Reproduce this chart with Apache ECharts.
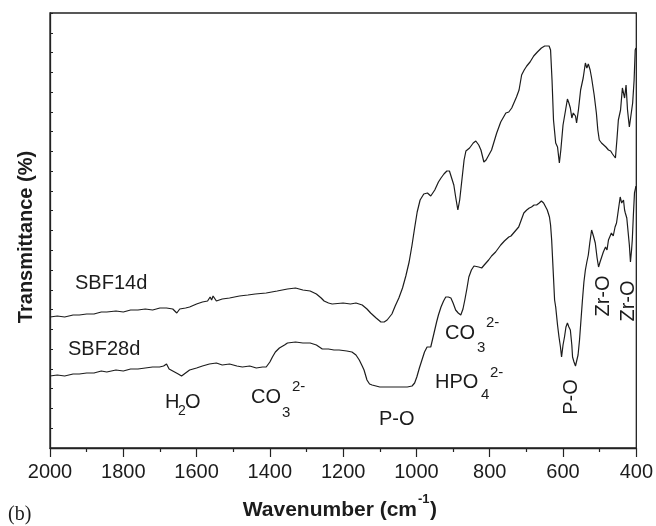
<!DOCTYPE html>
<html>
<head>
<meta charset="utf-8">
<script src="https://cdn.jsdelivr.net/npm/echarts@6/dist/echarts.min.js"></script>
<style>html,body{margin:0;padding:0;background:#fff;}#c{width:656px;height:526px;}</style>
</head>
<body>
<div id="c"></div>
<script>
// Tick labels of the wavenumber axis
const xTicks = [2000, 1800, 1600, 1400, 1200, 1000, 800, 600, 400];
// Series names
const seriesNames = ['SBF14d', 'SBF28d'];
// Wavenumber (cm-1) / transmittance (arbitrary units, offset curves)
const sbf14d = [
[2000,131],[1980,132],[1960,131],[1937,133],[1920,133],[1900,134],[1880,134],[1860,136],[1845,136],[1820,137],
[1800,136],[1780,138],[1760,138],[1740,139],[1720,138],[1700,140],[1682,140],[1665,139],[1654,135],[1646,139],
[1630,140],[1619,141],[1600,144],[1584,146],[1570,147],[1563,151],[1559,148],[1555,152],[1546,147],[1530,149],
[1510,150],[1483,152],[1460,153],[1440,154],[1410,155],[1380,157],[1352,159],[1330,160],[1310,158],[1290,157],
[1273,154],[1260,150],[1252,147],[1240,145],[1230,144],[1200,145],[1180,144],[1165,145],[1148,143],[1135,139],
[1125,135],[1110,130],[1097,126],[1088,126],[1080,128],[1075,127],[1067,134],[1058,142],[1048,150],[1038,160],
[1029,172],[1020,186],[1012,203],[1005,220],[998,236],[990,248],[980,254],[970,255],[961,252],[950,258],
[940,266],[933,270],[925,274],[917,277],[910,277],[906,275],[898,263],[893,251],[887,238],[882,248],
[876,268],[870,288],[865,297],[855,300],[845,305],[838,307],[830,303],[824,298],[816,286],[810,288],
[805,286],[795,298],[781,315],[770,326],[756,335],[748,336],[740,340],[727,351],[720,358],[713,373],
[706,378],[699,382],[690,386],[680,392],[670,396],[659,400],[650,402],[645,404],[638,402],[634,398],
[630,368],[626,328],[620,305],[615,301],[610,285],[606,298],[600,323],[593,338],[588,349],[584,345],
[580,340],[576,330],[572,335],[566,332],[563,325],[558,338],[552,358],[545,370],[539,385],[535,380],
[531,384],[526,378],[522,370],[515,353],[509,335],[505,318],[501,308],[495,305],[490,306],[483,301],
[476,298],[470,297],[465,294],[460,292],[457,290],[453,308],[449,328],[443,338],[438,360],[435,361],
[432,350],[428,363],[424,338],[419,321],[414,321],[410,345],[406,368],[403,398],[401,400]
];
const sbf28d = [
[2000,72],[1980,73],[1960,72],[1937,74],[1920,74],[1900,75],[1880,75],[1860,77],[1845,76],[1820,78],
[1800,77],[1780,79],[1760,79],[1740,80],[1720,81],[1701,81],[1690,82],[1682,84],[1675,79],[1665,77],
[1650,74],[1641,72],[1630,75],[1619,78],[1600,80],[1584,82],[1565,84],[1546,85],[1530,83],[1510,84],
[1490,82],[1475,81],[1455,82],[1437,80],[1420,81],[1410,81],[1400,86],[1393,91],[1385,96],[1374,100],
[1360,103],[1352,105],[1330,106],[1310,105],[1290,105],[1273,103],[1265,101],[1257,99],[1240,99],[1225,98],
[1211,98],[1190,97],[1176,96],[1165,93],[1156,88],[1148,82],[1143,78],[1135,68],[1128,64],[1121,63],
[1100,61],[1080,61],[1060,61],[1040,61],[1025,61],[1012,62],[1005,65],[999,71],[992,80],[985,88],
[978,96],[971,101],[966,100],[961,101],[952,115],[945,126],[940,133],[933,141],[926,147],[920,151],
[913,151],[906,150],[900,145],[893,138],[886,135],[879,133],[873,139],[868,148],[862,160],[857,171],
[850,178],[843,182],[838,184],[830,181],[822,180],[815,183],[810,182],[803,188],[795,192],[784,196],
[776,200],[770,203],[760,207],[748,211],[742,212],[735,215],[728,218],[721,221],[714,228],[707,235],
[699,238],[692,240],[686,241],[679,243],[672,243],[665,245],[659,247],[653,245],[648,243],[643,238],
[637,231],[634,223],[631,208],[627,178],[623,148],[620,141],[615,123],[611,111],[607,101],[604,91],
[600,103],[596,111],[592,121],[588,125],[584,121],[580,118],[576,103],[574,91],[570,86],[566,82],
[563,80],[559,93],[555,108],[551,128],[547,148],[543,166],[539,178],[535,186],[531,193],[527,205],
[522,218],[517,212],[512,205],[507,190],[503,181],[499,186],[495,188],[490,196],[484,201],[480,198],
[476,208],[472,206],[468,215],[463,212],[458,221],[454,225],[449,238],[444,251],[440,245],[435,248],
[432,238],[430,235],[426,230],[422,228],[419,203],[416,186],[413,198],[411,208],[408,233],[405,255],
[402,260],[401,262]
];

const chart = echarts.init(document.getElementById('c'), null, {renderer: 'canvas'});
const FONT = '"Liberation Sans", Arial, Helvetica, sans-serif';
const INK = '#1c1c1c';

function txt(x, y, s, size, opts) {
  opts = opts || {};
  return {
    type: 'text', x: x, y: y, rotation: opts.rot || 0, z: 100,
    style: {
      text: s, x: 0, y: 0,
      font: (opts.bold ? 'bold ' : '') + size + 'px ' + (opts.family || FONT),
      fill: INK,
      textAlign: opts.align || 'left', align: opts.align || 'left',
      textVerticalAlign: 'middle', verticalAlign: 'middle'
    }
  };
}

const graphics = [
  // axis titles
  txt(26, 237, 'Transmittance (%)', 20, {bold: true, align: 'center', rot: Math.PI / 2}),
  txt(417, 510, 'Wavenumber (cm', 21, {bold: true, align: 'right'}),
  txt(418, 499, '-1', 13, {bold: true}),
  txt(430, 510, ')', 21, {bold: true}),
  txt(8, 515, '(b)', 20, {family: '"Liberation Serif", "Times New Roman", serif'}),
  // series labels
  txt(75, 283, seriesNames[0], 20),
  txt(68, 349, seriesNames[1], 20),
  // band annotations
  txt(165, 402, 'H', 20), txt(178, 411, '2', 14), txt(185, 402, 'O', 20),
  txt(251, 397, 'CO', 20), txt(282, 413, '3', 15), txt(292, 387, '2-', 15),
  txt(379, 419, 'P-O', 20),
  txt(445, 333, 'CO', 20), txt(477, 348, '3', 15), txt(486, 323, '2-', 15),
  txt(435, 382, 'HPO', 20), txt(481, 395, '4', 15), txt(490, 373, '2-', 15),
  txt(571, 397, 'P-O', 20, {align: 'center', rot: Math.PI / 2}),
  txt(603, 296, 'Zr-O', 20, {align: 'center', rot: Math.PI / 2}),
  txt(628, 301, 'Zr-O', 20, {align: 'center', rot: Math.PI / 2})
];

chart.setOption({
  animation: false,
  backgroundColor: '#fff',
  grid: {left: 50, right: 18, top: 13, bottom: 78, show: true, borderColor: '#222', borderWidth: 1.3, backgroundColor: 'transparent'},
  xAxis: {
    type: 'value', min: 400, max: 2000, interval: 200, inverse: true,
    axisLine: {show: true, lineStyle: {color: '#222', width: 1.3}},
    axisTick: {show: true, inside: false, length: 9, lineStyle: {color: '#222', width: 1.2}},
    minorTick: {show: true, splitNumber: 2, length: 4, lineStyle: {color: '#222', width: 1.2}},
    splitLine: {show: false},
    axisLabel: {
      show: true, margin: 14, color: INK, fontSize: 20, fontFamily: FONT,
      formatter: function (v) { return xTicks.indexOf(v) >= 0 ? String(v) : ''; }
    }
  },
  yAxis: {
    type: 'value', min: 0, max: 435, interval: 435 / 22,
    axisLine: {show: true, lineStyle: {color: '#222', width: 1.3}},
    axisTick: {show: true, inside: true, length: 3, lineStyle: {color: '#222', width: 1}},
    axisLabel: {show: false},
    splitLine: {show: false}
  },
  series: [
    {name: seriesNames[0], type: 'line', data: sbf14d, showSymbol: false, symbol: 'none',
     lineStyle: {color: INK, width: 1.2}, z: 3},
    {name: seriesNames[1], type: 'line', data: sbf28d, showSymbol: false, symbol: 'none',
     lineStyle: {color: INK, width: 1.2}, z: 3}
  ],
  graphic: graphics
});
</script>
</body>
</html>
